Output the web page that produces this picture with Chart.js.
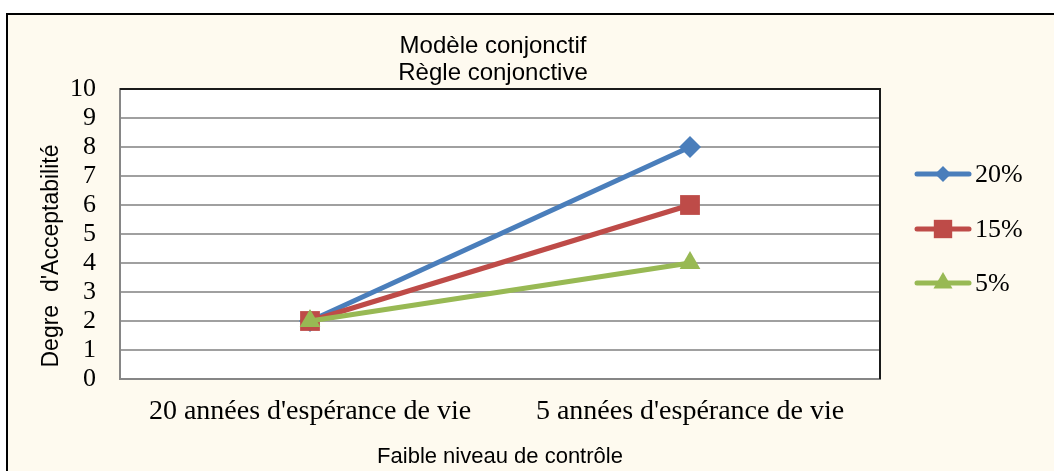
<!DOCTYPE html>
<html>
<head>
<meta charset="utf-8">
<script src="https://cdn.jsdelivr.net/npm/chart.js@4.4.0/dist/chart.umd.min.js"></script>
<style>
  body { margin: 0; background: #ffffff; }
  canvas { display: block; }
</style>
</head>
<body>
<canvas id="myChart" width="1054" height="471"></canvas>
<script>
// data
const categories = ["20 années d'espérance de vie", "5 années d'espérance de vie"];
const seriesLabels = ['20%', '15%', '5%'];
const values20 = [2, 8];
const values15 = [2, 6];
const values5 = [2, 4];
const yTicks = [0, 1, 2, 3, 4, 5, 6, 7, 8, 9, 10];

const titleLines = ['Modèle conjonctif', 'Règle conjonctive'];
const xTitle = 'Faible niveau de contrôle';
const yTitle = "Degre  d'Acceptabilité";

const blue = '#4a7ebb';
const red = '#be4b48';
const green = '#98b954';
const cream = '#fefaef';
const serif = "'Liberation Serif', serif";
const sans = "'Liberation Sans', Arial, sans-serif";

// frame, plot background, titles and the legend drawn with the line through the marker
const decor = {
  id: 'decor',
  beforeDraw(chart) {
    const { ctx, chartArea: a } = chart;
    ctx.save();
    ctx.fillStyle = '#ffffff';
    ctx.fillRect(0, 0, chart.width, chart.height);
    ctx.fillStyle = cream;
    ctx.fillRect(7, 14, chart.width, chart.height);
    ctx.strokeStyle = '#000000';
    ctx.lineWidth = 2;
    ctx.beginPath();
    ctx.moveTo(7, chart.height + 5);
    ctx.lineTo(7, 14);
    ctx.lineTo(chart.width + 5, 14);
    ctx.stroke();
    ctx.fillStyle = '#ffffff';
    ctx.fillRect(a.left, a.top, a.right - a.left, a.bottom - a.top);

    ctx.fillStyle = '#000000';
    ctx.textAlign = 'center';
    ctx.textBaseline = 'middle';
    ctx.font = '24px ' + sans;
    ctx.fillText(titleLines[0], 493, 46);
    ctx.fillText(titleLines[1], 493, 73);

    ctx.font = '23px ' + sans;
    ctx.translate(52, 256);
    ctx.rotate(-Math.PI / 2);
    ctx.fillText(yTitle, 0, 0);
    ctx.restore();
  },
  beforeDatasetsDraw(chart) {
    const { ctx, chartArea: a } = chart;
    ctx.save();
    ctx.strokeStyle = '#1a1a1a';
    ctx.lineWidth = 2;
    ctx.beginPath();
    ctx.moveTo(a.left, a.top);
    ctx.lineTo(a.right, a.top);
    ctx.lineTo(a.right, a.bottom);
    ctx.stroke();
    ctx.restore();
  },
  afterDraw(chart) {
    const { ctx } = chart;
    const rows = [174, 229, 283];
    ctx.save();
    chart.data.datasets.forEach((ds, i) => {
      const y = rows[i];
      ctx.strokeStyle = ds.borderColor;
      ctx.lineWidth = 5;
      ctx.lineCap = 'round';
      ctx.beginPath();
      ctx.moveTo(917, y);
      ctx.lineTo(969, y);
      ctx.stroke();
      ctx.fillStyle = ds.backgroundColor;
      Chart.helpers.drawPoint(ctx, {
        pointStyle: ds.pointStyle,
        radius: ds.legendRadius,
        borderWidth: 0
      }, 943, y);
      ctx.fillStyle = '#000000';
      ctx.font = '26px ' + serif;
      ctx.textAlign = 'left';
      ctx.textBaseline = 'middle';
      ctx.fillText(ds.label, 975, y + 1);
    });
    ctx.restore();
  }
};

new Chart(document.getElementById('myChart'), {
  type: 'line',
  data: {
    labels: categories,
    datasets: [
      {
        label: seriesLabels[0], data: values20, order: 2,
        borderColor: blue, backgroundColor: blue, borderWidth: 5,
        pointStyle: 'rectRot', pointRadius: 11, pointHoverRadius: 11, legendRadius: 8,
        pointBorderWidth: 0
      },
      {
        label: seriesLabels[1], data: values15, order: 1,
        borderColor: red, backgroundColor: red, borderWidth: 5,
        pointStyle: 'rect', pointRadius: 14, pointHoverRadius: 14, legendRadius: 13,
        pointBorderWidth: 0
      },
      {
        label: seriesLabels[2], data: values5, order: 0,
        borderColor: green, backgroundColor: green, borderWidth: 5,
        pointStyle: 'triangle', pointRadius: 12, pointHoverRadius: 12, legendRadius: 11,
        pointBorderWidth: 0
      }
    ]
  },
  options: {
    responsive: false,
    animation: false,
    layout: {
      padding: { left: 0, top: 89, right: 174, bottom: 0 }
    },
    plugins: {
      legend: { display: false },
      title: { display: false },
      tooltip: { enabled: false }
    },
    scales: {
      x: {
        offset: true,
        afterFit(scale) { scale.height = 92; },
        grid: { display: false, drawTicks: false },
        border: { display: true, color: '#868686', width: 2 },
        ticks: {
          color: '#000000',
          padding: 16,
          maxRotation: 0,
          font: { family: serif, size: 28 }
        },
        title: {
          display: true,
          text: xTitle,
          color: '#000000',
          font: { family: sans, size: 22 },
          padding: { top: 0, bottom: 1 }
        }
      },
      y: {
        min: yTicks[0],
        max: yTicks[yTicks.length - 1],
        afterFit(scale) { scale.width = 120; },
        afterBuildTicks(scale) { scale.ticks = yTicks.map(v => ({ value: v })); },
        grid: { color: '#a0a0a0', lineWidth: 2, drawTicks: false },
        border: { display: true, color: '#868686', width: 2 },
        ticks: {
          color: '#000000',
          padding: 24,
          autoSkip: false,
          font: { family: serif, size: 26 }
        }
      }
    }
  },
  plugins: [decor]
});
</script>
</body>
</html>
